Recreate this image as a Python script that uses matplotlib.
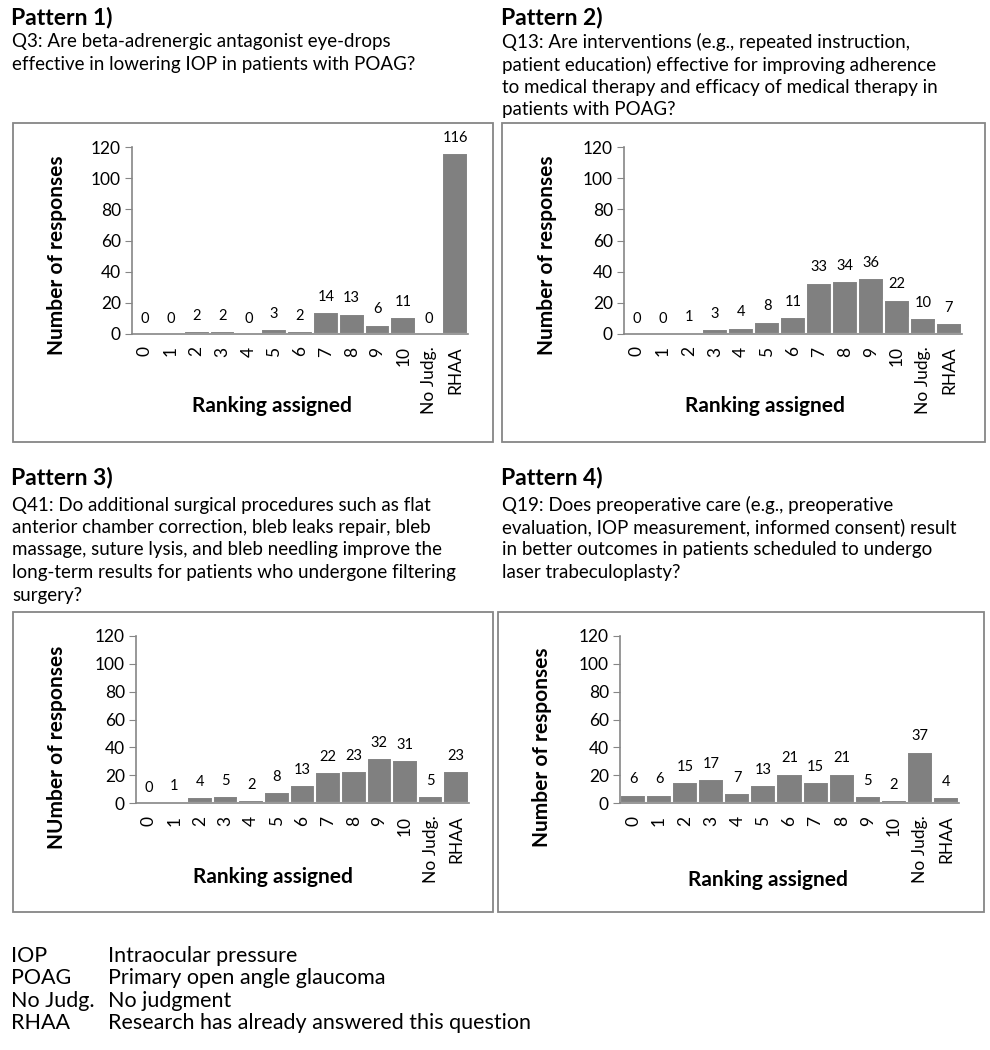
import matplotlib
matplotlib.use('Agg')
import matplotlib.pyplot as plt
from matplotlib.patches import Rectangle

W, H = 990, 1050
FONT = 'Lato'

CATEGORIES = ['0', '1', '2', '3', '4', '5', '6', '7', '8', '9', '10', 'No Judg.', 'RHAA']

PATTERN_1 = [0, 0, 2, 2, 0, 3, 2, 14, 13, 6, 11, 0, 116]
PATTERN_2 = [0, 0, 1, 3, 4, 8, 11, 33, 34, 36, 22, 10, 7]
PATTERN_3 = [0, 1, 4, 5, 2, 8, 13, 22, 23, 32, 31, 5, 23]
PATTERN_4 = [6, 6, 15, 17, 7, 13, 21, 15, 21, 5, 2, 37, 4]

TITLES = ['Pattern 1)', 'Pattern 2)', 'Pattern 3)', 'Pattern 4)']
QUESTIONS = [
    ['Q3: Are beta-adrenergic antagonist eye-drops',
     'effective in lowering IOP in patients with POAG?'],
    ['Q13: Are interventions (e.g., repeated instruction,',
     'patient education) effective for improving adherence',
     'to medical therapy and efficacy of medical therapy in',
     'patients with POAG?'],
    ['Q41: Do additional surgical procedures such as flat',
     'anterior chamber correction, bleb leaks repair, bleb',
     'massage, suture lysis, and bleb needling improve the',
     'long-term results for patients who undergone filtering',
     'surgery?'],
    ['Q19: Does preoperative care (e.g., preoperative',
     'evaluation, IOP measurement, informed consent) result',
     'in better outcomes in patients scheduled to undergo',
     'laser trabeculoplasty?'],
]
YLABELS = ['Number of responses', 'Number of responses',
           'NUmber of responses', 'Number of responses']

ABBREVS = ['IOP', 'POAG', 'No Judg.', 'RHAA']
MEANINGS = ['Intraocular pressure', 'Primary open angle glaucoma',
            'No judgment', 'Research has already answered this question']

GRAY = '#868686'
BAR = '#808080'


def fx(px):
    return px / W


def fy(py):
    return 1 - py / H


fig = plt.figure(figsize=(W / 100, H / 100), dpi=100)
fig.patch.set_facecolor('white')

# layout in pixels: text anchor, frame, axes box, axis-label centres
panels = [
    dict(tx=11, ty=17, qy=42, box=(13, 123, 493, 442), ax=(132, 147, 468, 334),
         xl=(272, 406), yl=(57, 255), data=PATTERN_1),
    dict(tx=501, ty=17, qy=42, box=(502, 123, 985, 442), ax=(624, 147, 962, 334),
         xl=(765, 406), yl=(547, 255), data=PATTERN_2),
    dict(tx=11, ty=478, qy=505, box=(13, 612, 493, 912), ax=(136, 636, 469, 803),
         xl=(273, 877), yl=(57, 747), data=PATTERN_3),
    dict(tx=501, ty=478, qy=505, box=(498, 612, 984, 912), ax=(620, 636, 959, 803),
         xl=(768, 880), yl=(542, 747), data=PATTERN_4),
]

for i, p in enumerate(panels):
    # heading and question text
    fig.text(fx(p['tx']), fy(p['ty']), TITLES[i], fontsize=16.5, fontweight='bold',
             family=FONT, va='center', ha='left')
    for j, line in enumerate(QUESTIONS[i]):
        fig.text(fx(p['tx'] + 1), fy(p['qy'] + j * 22.5), line, fontsize=13.5,
                 family=FONT, va='center', ha='left')

    # frame around the chart
    x0, y0, x1, y1 = p['box']
    fig.patches.append(Rectangle((fx(x0), fy(y1)), fx(x1 - x0), (y1 - y0) / H,
                                 transform=fig.transFigure, fill=False,
                                 edgecolor=GRAY, linewidth=1.3))

    l, t, r, b = p['ax']
    ax = fig.add_axes([fx(l), fy(b), fx(r - l), (b - t) / H])
    xs = range(len(CATEGORIES))
    bars = ax.bar(xs, p['data'], width=1.0, color=BAR, edgecolor='white', linewidth=1.5)
    ax.bar_label(bars, labels=[str(v) for v in p['data']], padding=6,
                 fontsize=10.5, family=FONT)
    ax.set_xlim(-0.5, len(CATEGORIES) - 0.5)
    ax.set_ylim(0, 120)
    ax.set_yticks(range(0, 121, 20))
    ax.set_xticks(list(xs))
    ax.set_xticklabels(CATEGORIES, rotation=90, fontsize=12.5, family=FONT)
    for lab in ax.get_yticklabels():
        lab.set_fontsize(12.5)
        lab.set_family(FONT)
    ax.tick_params(axis='x', length=0, pad=9)
    ax.tick_params(axis='y', length=5, color=GRAY, pad=3)
    for s in ['top', 'right']:
        ax.spines[s].set_visible(False)
    for s in ['left', 'bottom']:
        ax.spines[s].set_color(GRAY)
        ax.spines[s].set_linewidth(1.2)
    ax.patch.set_alpha(0)

    fig.text(fx(p['xl'][0]), fy(p['xl'][1]), 'Ranking assigned', fontsize=15,
             fontweight='bold', family=FONT, ha='center', va='center')
    fig.text(fx(p['yl'][0]), fy(p['yl'][1]), YLABELS[i], fontsize=15,
             fontweight='bold', family=FONT, ha='center', va='center', rotation=90)

# abbreviation key
for k, (a, m) in enumerate(zip(ABBREVS, MEANINGS)):
    y = 956 + k * 22.3
    fig.text(fx(11), fy(y), a, fontsize=15.5, family=FONT, va='center', ha='left')
    fig.text(fx(108), fy(y), m, fontsize=15.5, family=FONT, va='center', ha='left')

fig.savefig('out.png', dpi=100, facecolor='white')
